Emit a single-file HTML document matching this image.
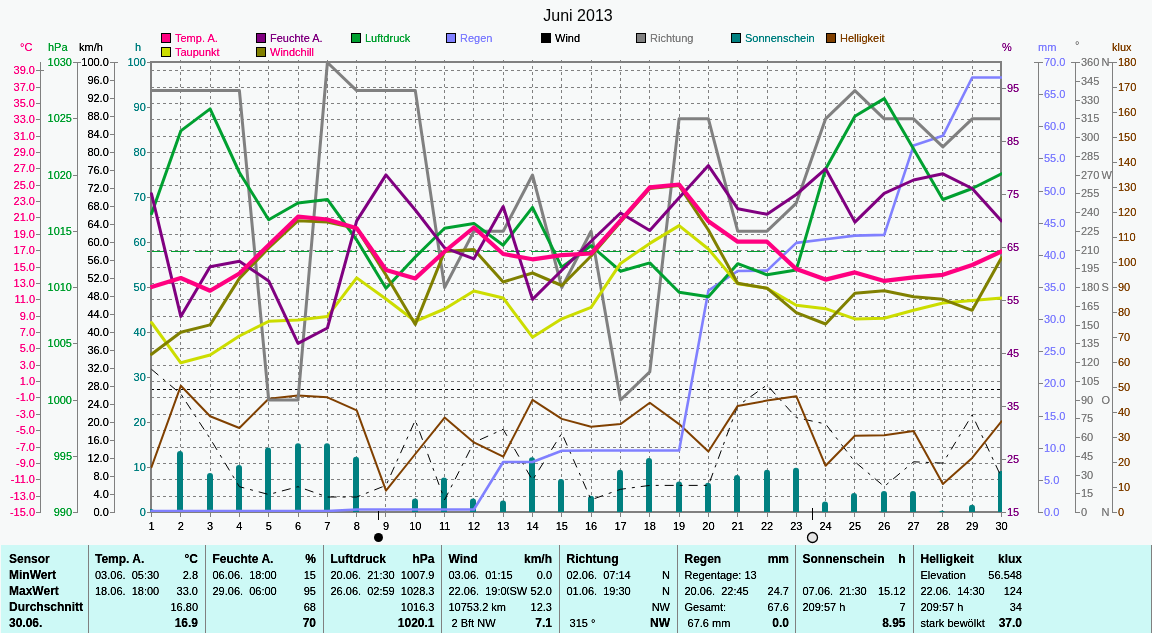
<!DOCTYPE html><html><head><meta charset="utf-8"><style>
html,body{margin:0;padding:0;background:#F7F9F9;width:1152px;height:633px;overflow:hidden}
svg{display:block;position:absolute;left:0;top:0;will-change:transform}
text{font-family:"Liberation Sans",sans-serif;font-size:11px;filter:url(#crisp)}
.tb text{font-size:11px}
</style></head><body>
<svg width="1152" height="633" viewBox="0 0 1152 633">
<rect x="0" y="0" width="1152" height="633" fill="#F7F9F9"/>
<defs><filter id="crisp" x="-30%" y="-30%" width="160%" height="160%"><feComponentTransfer><feFuncA type="linear" slope="1.4" intercept="0"/></feComponentTransfer></filter></defs>
<text x="578" y="21" text-anchor="middle" style="font-size:16px;filter:none" fill="#000">Juni 2013</text>
<rect x="161.5" y="33.5" width="9" height="9" fill="#FF0080" stroke="#000" stroke-width="1"/>
<text x="175" y="42" fill="#FF0080">Temp. A.</text>
<rect x="161.5" y="47.5" width="9" height="9" fill="#CCDD00" stroke="#000" stroke-width="1"/>
<text x="175" y="56" fill="#FF0080">Taupunkt</text>
<rect x="256.5" y="33.5" width="9" height="9" fill="#800080" stroke="#000" stroke-width="1"/>
<text x="270" y="42" fill="#800080">Feuchte A.</text>
<rect x="256.5" y="47.5" width="9" height="9" fill="#808000" stroke="#000" stroke-width="1"/>
<text x="270" y="56" fill="#FF0080">Windchill</text>
<rect x="351.5" y="33.5" width="9" height="9" fill="#00A030" stroke="#000" stroke-width="1"/>
<text x="365" y="42" fill="#00A030">Luftdruck</text>
<rect x="446.5" y="33.5" width="9" height="9" fill="#8080FF" stroke="#000" stroke-width="1"/>
<text x="460" y="42" fill="#8080FF">Regen</text>
<rect x="541.5" y="33.5" width="9" height="9" fill="#000000" stroke="#000" stroke-width="1"/>
<text x="555" y="42" fill="#000">Wind</text>
<rect x="636.5" y="33.5" width="9" height="9" fill="#808080" stroke="#000" stroke-width="1"/>
<text x="650" y="42" fill="#808080">Richtung</text>
<rect x="731.5" y="33.5" width="9" height="9" fill="#008080" stroke="#000" stroke-width="1"/>
<text x="745" y="42" fill="#008080">Sonnenschein</text>
<rect x="826.5" y="33.5" width="9" height="9" fill="#804000" stroke="#000" stroke-width="1"/>
<text x="840" y="42" fill="#804000">Helligkeit</text>
<g shape-rendering="crispEdges">
<path d="M151 70.5H1000M151 87.5H1000M151 103.5H1000M151 119.5H1000M151 136.5H1000M151 152.5H1000M151 168.5H1000M151 185.5H1000M151 201.5H1000M151 217.5H1000M151 234.5H1000M151 250.5H1000M151 267.5H1000M151 283.5H1000M151 299.5H1000M151 316.5H1000M151 332.5H1000M151 348.5H1000M151 365.5H1000M151 381.5H1000M151 397.5H1000M151 414.5H1000M151 430.5H1000M151 447.5H1000M151 463.5H1000M151 479.5H1000M151 496.5H1000M151 512.5H1000" stroke="#808080" stroke-width="1" stroke-dasharray="3 3" fill="none"/>
<path d="M180.5 60V512M210.5 60V512M239.5 60V512M268.5 60V512M298.5 60V512M327.5 60V512M356.5 60V512M385.5 60V512M415.5 60V512M444.5 60V512M473.5 60V512M503.5 60V512M532.5 60V512M561.5 60V512M591.5 60V512M620.5 60V512M649.5 60V512M679.5 60V512M708.5 60V512M737.5 60V512M767.5 60V512M796.5 60V512M825.5 60V512M854.5 60V512M884.5 60V512M913.5 60V512M942.5 60V512M972.5 60V512" stroke="#808080" stroke-width="1" stroke-dasharray="3 3" fill="none"/>
<path d="M147 251.5H1000" stroke="#00A030" stroke-width="1" stroke-dasharray="18 6" fill="none"/>
<path d="M151 389.5H1000" stroke="#000" stroke-width="1" stroke-dasharray="3 3" fill="none"/>
</g>
<g shape-rendering="crispEdges" fill="#808080">
<rect x="150" y="61" width="852" height="2"/>
<rect x="150" y="61" width="2" height="452"/>
<rect x="1000" y="61" width="2" height="452"/>
<rect x="150" y="511" width="852" height="2"/>
</g>
<defs><clipPath id="pc"><rect x="150" y="61" width="852" height="451"/></clipPath></defs>
<g clip-path="url(#pc)">
<rect x="148" y="508.9" width="6" height="7.1" rx="3" ry="3" fill="#008080"/>
<rect x="177" y="451.0" width="6" height="65.0" rx="3" ry="3" fill="#008080"/>
<rect x="207" y="472.9" width="6" height="43.1" rx="3" ry="3" fill="#008080"/>
<rect x="236" y="465.0" width="6" height="51.0" rx="3" ry="3" fill="#008080"/>
<rect x="265" y="447.6" width="6" height="68.4" rx="3" ry="3" fill="#008080"/>
<rect x="295" y="443.2" width="6" height="72.8" rx="3" ry="3" fill="#008080"/>
<rect x="324" y="443.2" width="6" height="72.8" rx="3" ry="3" fill="#008080"/>
<rect x="353" y="456.7" width="6" height="59.3" rx="3" ry="3" fill="#008080"/>
<rect x="412" y="498.5" width="6" height="17.5" rx="3" ry="3" fill="#008080"/>
<rect x="441" y="477.6" width="6" height="38.4" rx="3" ry="3" fill="#008080"/>
<rect x="470" y="498.5" width="6" height="17.5" rx="3" ry="3" fill="#008080"/>
<rect x="500" y="500.5" width="6" height="15.5" rx="3" ry="3" fill="#008080"/>
<rect x="529" y="457.2" width="6" height="58.8" rx="3" ry="3" fill="#008080"/>
<rect x="558" y="478.9" width="6" height="37.1" rx="3" ry="3" fill="#008080"/>
<rect x="588" y="495.8" width="6" height="20.2" rx="3" ry="3" fill="#008080"/>
<rect x="617" y="469.8" width="6" height="46.2" rx="3" ry="3" fill="#008080"/>
<rect x="646" y="458.0" width="6" height="58.0" rx="3" ry="3" fill="#008080"/>
<rect x="676" y="481.5" width="6" height="34.5" rx="3" ry="3" fill="#008080"/>
<rect x="705" y="482.8" width="6" height="33.2" rx="3" ry="3" fill="#008080"/>
<rect x="734" y="475.0" width="6" height="41.0" rx="3" ry="3" fill="#008080"/>
<rect x="764" y="469.8" width="6" height="46.2" rx="3" ry="3" fill="#008080"/>
<rect x="793" y="467.7" width="6" height="48.3" rx="3" ry="3" fill="#008080"/>
<rect x="822" y="501.6" width="6" height="14.4" rx="3" ry="3" fill="#008080"/>
<rect x="851" y="493.0" width="6" height="23.0" rx="3" ry="3" fill="#008080"/>
<rect x="881" y="491.0" width="6" height="25.0" rx="3" ry="3" fill="#008080"/>
<rect x="910" y="491.0" width="6" height="25.0" rx="3" ry="3" fill="#008080"/>
<rect x="939" y="510.5" width="6" height="5.5" rx="3" ry="3" fill="#008080"/>
<rect x="969" y="504.8" width="6" height="11.2" rx="3" ry="3" fill="#008080"/>
<rect x="998" y="470.9" width="6" height="45.1" rx="3" ry="3" fill="#008080"/>
<polyline points="151.5,369.3 180.8,394.0 210.1,438.5 239.4,486.7 268.7,494.5 298.0,486.7 327.4,497.0 356.7,497.0 386.0,485.4 415.3,420.2 444.6,499.8 473.9,442.4 503.2,429.3 532.5,480.2 561.8,433.2 591.1,499.8 620.5,489.3 649.8,485.4 679.1,485.4 708.4,485.4 737.7,405.9 767.0,385.0 796.3,417.6 825.6,424.0 854.9,461.8 884.2,486.5 913.6,461.8 942.9,463.1 972.2,414.9 1001.5,477.4" fill="none" stroke="#000" stroke-width="1" stroke-linejoin="round" stroke-linecap="round" stroke-dasharray="9 6 3 6" style="stroke-linecap:butt;stroke-linejoin:miter"/>
<polyline points="151.5,467.2 180.8,385.8 210.1,416.3 239.4,428.0 268.7,398.8 298.0,395.4 327.4,397.3 356.7,410.3 386.0,490.6 415.3,454.0 444.6,417.6 473.9,442.4 503.2,456.7 532.5,399.9 561.8,418.9 591.1,426.7 620.5,424.1 649.8,402.7 679.1,424.1 708.4,451.5 737.7,405.9 767.0,400.6 796.3,396.2 825.6,465.8 854.9,435.8 884.2,435.2 913.6,431.0 942.9,484.0 972.2,457.9 1001.5,421.4" fill="none" stroke="#804000" stroke-width="2" stroke-linejoin="round" stroke-linecap="round" />
<polyline points="151.5,511.0 180.8,511.0 210.1,511.0 239.4,511.0 268.7,511.0 298.0,511.0 327.4,511.0 356.7,509.5 386.0,509.5 415.3,509.5 444.6,509.5 473.9,509.5 503.2,462.0 532.5,462.0 561.8,450.7 591.1,450.5 620.5,450.5 649.8,450.5 679.1,450.5 708.4,290.7 737.7,271.0 767.0,270.6 796.3,242.9 825.6,239.3 854.9,235.6 884.2,234.9 913.6,145.6 942.9,135.8 972.2,77.5 1001.5,77.5" fill="none" stroke="#8080FF" stroke-width="2.6" stroke-linejoin="round" stroke-linecap="round" />
<polyline points="151.5,90.6 180.8,90.6 210.1,90.6 239.4,90.6 268.7,400.0 298.0,400.0 327.4,62.5 356.7,90.6 386.0,90.6 415.3,90.6 444.6,287.5 473.9,231.2 503.2,231.2 532.5,175.0 561.8,287.5 591.1,231.2 620.5,400.0 649.8,371.9 679.1,118.8 708.4,118.8 737.7,231.2 767.0,231.2 796.3,203.1 825.6,118.8 854.9,90.6 884.2,118.8 913.6,118.8 942.9,146.9 972.2,118.8 1001.5,118.8" fill="none" stroke="#808080" stroke-width="3" stroke-linejoin="round" stroke-linecap="round" />
<polyline points="151.5,213.7 180.8,130.9 210.1,108.9 239.4,172.5 268.7,219.7 298.0,203.0 327.4,199.4 356.7,240.0 386.0,288.2 415.3,257.0 444.6,228.2 473.9,223.4 503.2,245.2 532.5,207.4 561.8,267.3 591.1,245.6 620.5,271.2 649.8,262.9 679.1,292.2 708.4,296.8 737.7,263.7 767.0,274.8 796.3,269.9 825.6,168.9 854.9,116.2 884.2,98.6 913.6,149.0 942.9,199.5 972.2,188.5 1001.5,173.8" fill="none" stroke="#00A030" stroke-width="3" stroke-linejoin="round" stroke-linecap="round" />
<polyline points="151.5,322.5 180.8,362.8 210.1,355.0 239.4,336.0 268.7,321.3 298.0,320.0 327.4,316.4 356.7,277.9 386.0,299.0 415.3,321.3 444.6,309.0 473.9,291.0 503.2,298.0 532.5,337.2 561.8,318.8 591.1,307.3 620.5,263.4 649.8,243.4 679.1,225.6 708.4,249.0 737.7,283.8 767.0,288.2 796.3,305.3 825.6,308.7 854.9,318.9 884.2,318.2 913.6,310.3 942.9,303.0 972.2,300.5 1001.5,298.0" fill="none" stroke="#CCDD00" stroke-width="3" stroke-linejoin="round" stroke-linecap="round" />
<polyline points="151.5,354.3 180.8,332.3 210.1,324.9 239.4,278.4 268.7,248.0 298.0,220.7 327.4,222.0 356.7,228.5 386.0,275.0 415.3,324.4 444.6,251.5 473.9,249.5 503.2,282.0 532.5,273.0 561.8,285.5 591.1,256.0 620.5,222.0 649.8,188.6 679.1,185.6 708.4,230.0 737.7,283.3 767.0,288.2 796.3,312.7 825.6,324.0 854.9,293.2 884.2,290.7 913.6,296.8 942.9,299.3 972.2,310.3 1001.5,257.7" fill="none" stroke="#808000" stroke-width="3" stroke-linejoin="round" stroke-linecap="round" />
<polyline points="151.5,193.8 180.8,316.4 210.1,266.7 239.4,261.3 268.7,280.9 298.0,343.3 327.4,328.0 356.7,220.9 386.0,174.9 415.3,210.0 444.6,247.8 473.9,258.8 503.2,206.5 532.5,299.4 561.8,270.3 591.1,241.2 620.5,213.0 649.8,230.5 679.1,197.7 708.4,165.6 737.7,208.7 767.0,214.3 796.3,194.5 825.6,168.8 854.9,222.1 884.2,193.4 913.6,180.0 942.9,173.8 972.2,188.5 1001.5,220.9" fill="none" stroke="#800080" stroke-width="3" stroke-linejoin="round" stroke-linecap="round" />
<polyline points="151.5,287.0 180.8,278.0 210.1,290.7 239.4,273.5 268.7,245.0 298.0,216.7 327.4,219.5 356.7,228.2 386.0,269.9 415.3,278.4 444.6,251.5 473.9,227.5 503.2,254.0 532.5,259.3 561.8,255.2 591.1,253.5 620.5,220.7 649.8,187.3 679.1,184.5 708.4,221.3 737.7,241.7 767.0,241.7 796.3,269.1 825.6,279.6 854.9,272.4 884.2,280.9 913.6,277.3 942.9,274.8 972.2,265.0 1001.5,251.5" fill="none" stroke="#FF0080" stroke-width="4.2" stroke-linejoin="round" stroke-linecap="round" />
</g>
<g shape-rendering="crispEdges" fill="#808080">
<rect x="151" y="513" width="1" height="4"/>
<rect x="180" y="513" width="1" height="4"/>
<rect x="210" y="513" width="1" height="4"/>
<rect x="239" y="513" width="1" height="4"/>
<rect x="268" y="513" width="1" height="4"/>
<rect x="298" y="513" width="1" height="4"/>
<rect x="327" y="513" width="1" height="4"/>
<rect x="356" y="513" width="1" height="4"/>
<rect x="385" y="513" width="1" height="4"/>
<rect x="415" y="513" width="1" height="4"/>
<rect x="444" y="513" width="1" height="4"/>
<rect x="473" y="513" width="1" height="4"/>
<rect x="503" y="513" width="1" height="4"/>
<rect x="532" y="513" width="1" height="4"/>
<rect x="561" y="513" width="1" height="4"/>
<rect x="591" y="513" width="1" height="4"/>
<rect x="620" y="513" width="1" height="4"/>
<rect x="649" y="513" width="1" height="4"/>
<rect x="679" y="513" width="1" height="4"/>
<rect x="708" y="513" width="1" height="4"/>
<rect x="737" y="513" width="1" height="4"/>
<rect x="767" y="513" width="1" height="4"/>
<rect x="796" y="513" width="1" height="4"/>
<rect x="825" y="513" width="1" height="4"/>
<rect x="854" y="513" width="1" height="4"/>
<rect x="884" y="513" width="1" height="4"/>
<rect x="913" y="513" width="1" height="4"/>
<rect x="942" y="513" width="1" height="4"/>
<rect x="972" y="513" width="1" height="4"/>
<rect x="1001" y="513" width="1" height="4"/>
</g>
<text x="151.5" y="530" text-anchor="middle" fill="#000">1</text>
<text x="180.8" y="530" text-anchor="middle" fill="#000">2</text>
<text x="210.1" y="530" text-anchor="middle" fill="#000">3</text>
<text x="239.4" y="530" text-anchor="middle" fill="#000">4</text>
<text x="268.7" y="530" text-anchor="middle" fill="#000">5</text>
<text x="298.0" y="530" text-anchor="middle" fill="#000">6</text>
<text x="327.4" y="530" text-anchor="middle" fill="#000">7</text>
<text x="356.7" y="530" text-anchor="middle" fill="#000">8</text>
<text x="386.0" y="530" text-anchor="middle" fill="#000">9</text>
<text x="415.3" y="530" text-anchor="middle" fill="#000">10</text>
<text x="444.6" y="530" text-anchor="middle" fill="#000">11</text>
<text x="473.9" y="530" text-anchor="middle" fill="#000">12</text>
<text x="503.2" y="530" text-anchor="middle" fill="#000">13</text>
<text x="532.5" y="530" text-anchor="middle" fill="#000">14</text>
<text x="561.8" y="530" text-anchor="middle" fill="#000">15</text>
<text x="591.1" y="530" text-anchor="middle" fill="#000">16</text>
<text x="620.5" y="530" text-anchor="middle" fill="#000">17</text>
<text x="649.8" y="530" text-anchor="middle" fill="#000">18</text>
<text x="679.1" y="530" text-anchor="middle" fill="#000">19</text>
<text x="708.4" y="530" text-anchor="middle" fill="#000">20</text>
<text x="737.7" y="530" text-anchor="middle" fill="#000">21</text>
<text x="767.0" y="530" text-anchor="middle" fill="#000">22</text>
<text x="796.3" y="530" text-anchor="middle" fill="#000">23</text>
<text x="825.6" y="530" text-anchor="middle" fill="#000">24</text>
<text x="854.9" y="530" text-anchor="middle" fill="#000">25</text>
<text x="884.2" y="530" text-anchor="middle" fill="#000">26</text>
<text x="913.6" y="530" text-anchor="middle" fill="#000">27</text>
<text x="942.9" y="530" text-anchor="middle" fill="#000">28</text>
<text x="972.2" y="530" text-anchor="middle" fill="#000">29</text>
<text x="1001.5" y="530" text-anchor="middle" fill="#000">30</text>
<g shape-rendering="crispEdges" fill="#808080">
<rect x="40" y="62" width="1" height="451"/>
<rect x="77" y="62" width="1" height="451"/>
<rect x="114" y="62" width="1" height="451"/>
<rect x="36" y="70" width="8" height="1"/>
<rect x="36" y="87" width="4" height="1"/>
<rect x="36" y="103" width="4" height="1"/>
<rect x="36" y="119" width="4" height="1"/>
<rect x="36" y="136" width="4" height="1"/>
<rect x="36" y="152" width="4" height="1"/>
<rect x="36" y="168" width="4" height="1"/>
<rect x="36" y="185" width="4" height="1"/>
<rect x="36" y="201" width="4" height="1"/>
<rect x="36" y="217" width="4" height="1"/>
<rect x="36" y="234" width="4" height="1"/>
<rect x="36" y="250" width="4" height="1"/>
<rect x="36" y="267" width="4" height="1"/>
<rect x="36" y="283" width="4" height="1"/>
<rect x="36" y="299" width="4" height="1"/>
<rect x="36" y="316" width="4" height="1"/>
<rect x="36" y="332" width="4" height="1"/>
<rect x="36" y="348" width="4" height="1"/>
<rect x="36" y="365" width="4" height="1"/>
<rect x="36" y="381" width="4" height="1"/>
<rect x="36" y="397" width="4" height="1"/>
<rect x="36" y="414" width="4" height="1"/>
<rect x="36" y="430" width="4" height="1"/>
<rect x="36" y="447" width="4" height="1"/>
<rect x="36" y="463" width="4" height="1"/>
<rect x="36" y="479" width="4" height="1"/>
<rect x="36" y="496" width="4" height="1"/>
<rect x="36" y="512" width="4" height="1"/>
<rect x="73" y="62" width="8" height="1"/>
<rect x="73" y="118" width="4" height="1"/>
<rect x="73" y="175" width="4" height="1"/>
<rect x="73" y="231" width="4" height="1"/>
<rect x="73" y="287" width="4" height="1"/>
<rect x="73" y="343" width="4" height="1"/>
<rect x="73" y="400" width="4" height="1"/>
<rect x="73" y="456" width="4" height="1"/>
<rect x="73" y="512" width="4" height="1"/>
<rect x="110" y="62" width="8" height="1"/>
<rect x="110" y="80" width="4" height="1"/>
<rect x="110" y="98" width="4" height="1"/>
<rect x="110" y="116" width="4" height="1"/>
<rect x="110" y="134" width="4" height="1"/>
<rect x="110" y="152" width="4" height="1"/>
<rect x="110" y="170" width="4" height="1"/>
<rect x="110" y="188" width="4" height="1"/>
<rect x="110" y="206" width="4" height="1"/>
<rect x="110" y="224" width="4" height="1"/>
<rect x="110" y="242" width="4" height="1"/>
<rect x="110" y="260" width="4" height="1"/>
<rect x="110" y="278" width="4" height="1"/>
<rect x="110" y="296" width="4" height="1"/>
<rect x="110" y="314" width="4" height="1"/>
<rect x="110" y="332" width="4" height="1"/>
<rect x="110" y="350" width="4" height="1"/>
<rect x="110" y="368" width="4" height="1"/>
<rect x="110" y="386" width="4" height="1"/>
<rect x="110" y="404" width="4" height="1"/>
<rect x="110" y="422" width="4" height="1"/>
<rect x="110" y="440" width="4" height="1"/>
<rect x="110" y="458" width="4" height="1"/>
<rect x="110" y="476" width="4" height="1"/>
<rect x="110" y="494" width="4" height="1"/>
<rect x="110" y="512" width="4" height="1"/>
<rect x="147" y="62" width="4" height="1"/>
<rect x="147" y="107" width="4" height="1"/>
<rect x="147" y="152" width="4" height="1"/>
<rect x="147" y="197" width="4" height="1"/>
<rect x="147" y="242" width="4" height="1"/>
<rect x="147" y="287" width="4" height="1"/>
<rect x="147" y="332" width="4" height="1"/>
<rect x="147" y="377" width="4" height="1"/>
<rect x="147" y="422" width="4" height="1"/>
<rect x="147" y="467" width="4" height="1"/>
<rect x="147" y="512" width="4" height="1"/>
</g>
<text x="35" y="74.0" text-anchor="end" fill="#FF0080">39.0</text>
<text x="35" y="91.0" text-anchor="end" fill="#FF0080">37.0</text>
<text x="35" y="107.0" text-anchor="end" fill="#FF0080">35.0</text>
<text x="35" y="123.0" text-anchor="end" fill="#FF0080">33.0</text>
<text x="35" y="140.0" text-anchor="end" fill="#FF0080">31.0</text>
<text x="35" y="156.0" text-anchor="end" fill="#FF0080">29.0</text>
<text x="35" y="172.0" text-anchor="end" fill="#FF0080">27.0</text>
<text x="35" y="189.0" text-anchor="end" fill="#FF0080">25.0</text>
<text x="35" y="205.0" text-anchor="end" fill="#FF0080">23.0</text>
<text x="35" y="221.0" text-anchor="end" fill="#FF0080">21.0</text>
<text x="35" y="238.0" text-anchor="end" fill="#FF0080">19.0</text>
<text x="35" y="254.0" text-anchor="end" fill="#FF0080">17.0</text>
<text x="35" y="271.0" text-anchor="end" fill="#FF0080">15.0</text>
<text x="35" y="287.0" text-anchor="end" fill="#FF0080">13.0</text>
<text x="35" y="303.0" text-anchor="end" fill="#FF0080">11.0</text>
<text x="35" y="320.0" text-anchor="end" fill="#FF0080">9.0</text>
<text x="35" y="336.0" text-anchor="end" fill="#FF0080">7.0</text>
<text x="35" y="352.0" text-anchor="end" fill="#FF0080">5.0</text>
<text x="35" y="369.0" text-anchor="end" fill="#FF0080">3.0</text>
<text x="35" y="385.0" text-anchor="end" fill="#FF0080">1.0</text>
<text x="35" y="401.0" text-anchor="end" fill="#FF0080">-1.0</text>
<text x="35" y="418.0" text-anchor="end" fill="#FF0080">-3.0</text>
<text x="35" y="434.0" text-anchor="end" fill="#FF0080">-5.0</text>
<text x="35" y="451.0" text-anchor="end" fill="#FF0080">-7.0</text>
<text x="35" y="467.0" text-anchor="end" fill="#FF0080">-9.0</text>
<text x="35" y="483.0" text-anchor="end" fill="#FF0080">-11.0</text>
<text x="35" y="500.0" text-anchor="end" fill="#FF0080">-13.0</text>
<text x="35" y="516.0" text-anchor="end" fill="#FF0080">-15.0</text>
<text x="72" y="66.0" text-anchor="end" fill="#00A030">1030</text>
<text x="72" y="122.0" text-anchor="end" fill="#00A030">1025</text>
<text x="72" y="179.0" text-anchor="end" fill="#00A030">1020</text>
<text x="72" y="235.0" text-anchor="end" fill="#00A030">1015</text>
<text x="72" y="291.0" text-anchor="end" fill="#00A030">1010</text>
<text x="72" y="347.0" text-anchor="end" fill="#00A030">1005</text>
<text x="72" y="404.0" text-anchor="end" fill="#00A030">1000</text>
<text x="72" y="460.0" text-anchor="end" fill="#00A030">995</text>
<text x="72" y="516.0" text-anchor="end" fill="#00A030">990</text>
<text x="108.8" y="66.0" text-anchor="end" fill="#000">100.0</text>
<text x="108.8" y="84.0" text-anchor="end" fill="#000">96.0</text>
<text x="108.8" y="102.0" text-anchor="end" fill="#000">92.0</text>
<text x="108.8" y="120.0" text-anchor="end" fill="#000">88.0</text>
<text x="108.8" y="138.0" text-anchor="end" fill="#000">84.0</text>
<text x="108.8" y="156.0" text-anchor="end" fill="#000">80.0</text>
<text x="108.8" y="174.0" text-anchor="end" fill="#000">76.0</text>
<text x="108.8" y="192.0" text-anchor="end" fill="#000">72.0</text>
<text x="108.8" y="210.0" text-anchor="end" fill="#000">68.0</text>
<text x="108.8" y="228.0" text-anchor="end" fill="#000">64.0</text>
<text x="108.8" y="246.0" text-anchor="end" fill="#000">60.0</text>
<text x="108.8" y="264.0" text-anchor="end" fill="#000">56.0</text>
<text x="108.8" y="282.0" text-anchor="end" fill="#000">52.0</text>
<text x="108.8" y="300.0" text-anchor="end" fill="#000">48.0</text>
<text x="108.8" y="318.0" text-anchor="end" fill="#000">44.0</text>
<text x="108.8" y="336.0" text-anchor="end" fill="#000">40.0</text>
<text x="108.8" y="354.0" text-anchor="end" fill="#000">36.0</text>
<text x="108.8" y="372.0" text-anchor="end" fill="#000">32.0</text>
<text x="108.8" y="390.0" text-anchor="end" fill="#000">28.0</text>
<text x="108.8" y="408.0" text-anchor="end" fill="#000">24.0</text>
<text x="108.8" y="426.0" text-anchor="end" fill="#000">20.0</text>
<text x="108.8" y="444.0" text-anchor="end" fill="#000">16.0</text>
<text x="108.8" y="462.0" text-anchor="end" fill="#000">12.0</text>
<text x="108.8" y="480.0" text-anchor="end" fill="#000">8.0</text>
<text x="108.8" y="498.0" text-anchor="end" fill="#000">4.0</text>
<text x="108.8" y="516.0" text-anchor="end" fill="#000">0.0</text>
<text x="145.8" y="66.0" text-anchor="end" fill="#008080">100</text>
<text x="145.8" y="111.0" text-anchor="end" fill="#008080">90</text>
<text x="145.8" y="156.0" text-anchor="end" fill="#008080">80</text>
<text x="145.8" y="201.0" text-anchor="end" fill="#008080">70</text>
<text x="145.8" y="246.0" text-anchor="end" fill="#008080">60</text>
<text x="145.8" y="291.0" text-anchor="end" fill="#008080">50</text>
<text x="145.8" y="336.0" text-anchor="end" fill="#008080">40</text>
<text x="145.8" y="381.0" text-anchor="end" fill="#008080">30</text>
<text x="145.8" y="426.0" text-anchor="end" fill="#008080">20</text>
<text x="145.8" y="471.0" text-anchor="end" fill="#008080">10</text>
<text x="145.8" y="516.0" text-anchor="end" fill="#008080">0</text>
<text x="20" y="51" fill="#FF0080">°C</text>
<text x="48" y="51" fill="#00A030">hPa</text>
<text x="79" y="51" fill="#000">km/h</text>
<text x="135" y="51" fill="#008080">h</text>
<g shape-rendering="crispEdges" fill="#808080">
<rect x="1038" y="62" width="1" height="451"/>
<rect x="1075" y="62" width="1" height="451"/>
<rect x="1112" y="62" width="1" height="451"/>
<rect x="1002" y="88" width="4" height="1"/>
<rect x="1002" y="141" width="4" height="1"/>
<rect x="1002" y="194" width="4" height="1"/>
<rect x="1002" y="247" width="4" height="1"/>
<rect x="1002" y="300" width="4" height="1"/>
<rect x="1002" y="353" width="4" height="1"/>
<rect x="1002" y="406" width="4" height="1"/>
<rect x="1002" y="459" width="4" height="1"/>
<rect x="1002" y="512" width="4" height="1"/>
<rect x="1034" y="62" width="9" height="1"/>
<rect x="1038" y="94" width="5" height="1"/>
<rect x="1038" y="126" width="5" height="1"/>
<rect x="1038" y="158" width="5" height="1"/>
<rect x="1038" y="191" width="5" height="1"/>
<rect x="1038" y="223" width="5" height="1"/>
<rect x="1038" y="255" width="5" height="1"/>
<rect x="1038" y="287" width="5" height="1"/>
<rect x="1038" y="319" width="5" height="1"/>
<rect x="1038" y="351" width="5" height="1"/>
<rect x="1038" y="383" width="5" height="1"/>
<rect x="1038" y="416" width="5" height="1"/>
<rect x="1038" y="448" width="5" height="1"/>
<rect x="1038" y="480" width="5" height="1"/>
<rect x="1038" y="512" width="5" height="1"/>
<rect x="1071" y="62" width="9" height="1"/>
<rect x="1075" y="81" width="5" height="1"/>
<rect x="1075" y="100" width="5" height="1"/>
<rect x="1075" y="118" width="5" height="1"/>
<rect x="1075" y="137" width="5" height="1"/>
<rect x="1075" y="156" width="5" height="1"/>
<rect x="1075" y="175" width="5" height="1"/>
<rect x="1075" y="193" width="5" height="1"/>
<rect x="1075" y="212" width="5" height="1"/>
<rect x="1075" y="231" width="5" height="1"/>
<rect x="1075" y="250" width="5" height="1"/>
<rect x="1075" y="268" width="5" height="1"/>
<rect x="1075" y="287" width="5" height="1"/>
<rect x="1075" y="306" width="5" height="1"/>
<rect x="1075" y="325" width="5" height="1"/>
<rect x="1075" y="343" width="5" height="1"/>
<rect x="1075" y="362" width="5" height="1"/>
<rect x="1075" y="381" width="5" height="1"/>
<rect x="1075" y="400" width="5" height="1"/>
<rect x="1075" y="418" width="5" height="1"/>
<rect x="1075" y="437" width="5" height="1"/>
<rect x="1075" y="456" width="5" height="1"/>
<rect x="1075" y="475" width="5" height="1"/>
<rect x="1075" y="493" width="5" height="1"/>
<rect x="1075" y="512" width="5" height="1"/>
<rect x="1108" y="62" width="9" height="1"/>
<rect x="1112" y="87" width="5" height="1"/>
<rect x="1112" y="112" width="5" height="1"/>
<rect x="1112" y="137" width="5" height="1"/>
<rect x="1112" y="162" width="5" height="1"/>
<rect x="1112" y="187" width="5" height="1"/>
<rect x="1112" y="212" width="5" height="1"/>
<rect x="1112" y="237" width="5" height="1"/>
<rect x="1112" y="262" width="5" height="1"/>
<rect x="1112" y="287" width="5" height="1"/>
<rect x="1112" y="312" width="5" height="1"/>
<rect x="1112" y="337" width="5" height="1"/>
<rect x="1112" y="362" width="5" height="1"/>
<rect x="1112" y="387" width="5" height="1"/>
<rect x="1112" y="412" width="5" height="1"/>
<rect x="1112" y="437" width="5" height="1"/>
<rect x="1112" y="462" width="5" height="1"/>
<rect x="1112" y="487" width="5" height="1"/>
<rect x="1112" y="512" width="5" height="1"/>
</g>
<text x="1007" y="92.0" fill="#800080">95</text>
<text x="1007" y="145.0" fill="#800080">85</text>
<text x="1007" y="198.0" fill="#800080">75</text>
<text x="1007" y="251.0" fill="#800080">65</text>
<text x="1007" y="304.0" fill="#800080">55</text>
<text x="1007" y="357.0" fill="#800080">45</text>
<text x="1007" y="410.0" fill="#800080">35</text>
<text x="1007" y="463.0" fill="#800080">25</text>
<text x="1007" y="516.0" fill="#800080">15</text>
<text x="1044" y="66.0" fill="#8080FF">70.0</text>
<text x="1044" y="98.0" fill="#8080FF">65.0</text>
<text x="1044" y="130.0" fill="#8080FF">60.0</text>
<text x="1044" y="162.0" fill="#8080FF">55.0</text>
<text x="1044" y="195.0" fill="#8080FF">50.0</text>
<text x="1044" y="227.0" fill="#8080FF">45.0</text>
<text x="1044" y="259.0" fill="#8080FF">40.0</text>
<text x="1044" y="291.0" fill="#8080FF">35.0</text>
<text x="1044" y="323.0" fill="#8080FF">30.0</text>
<text x="1044" y="355.0" fill="#8080FF">25.0</text>
<text x="1044" y="387.0" fill="#8080FF">20.0</text>
<text x="1044" y="420.0" fill="#8080FF">15.0</text>
<text x="1044" y="452.0" fill="#8080FF">10.0</text>
<text x="1044" y="484.0" fill="#8080FF">5.0</text>
<text x="1044" y="516.0" fill="#8080FF">0.0</text>
<text x="1081" y="66.0" fill="#808080">360</text>
<text x="1101.5" y="66.0" fill="#808080">N</text>
<text x="1081" y="85.0" fill="#808080">345</text>
<text x="1081" y="104.0" fill="#808080">330</text>
<text x="1081" y="122.0" fill="#808080">315</text>
<text x="1081" y="141.0" fill="#808080">300</text>
<text x="1081" y="160.0" fill="#808080">285</text>
<text x="1081" y="179.0" fill="#808080">270</text>
<text x="1101.5" y="179.0" fill="#808080">W</text>
<text x="1081" y="197.0" fill="#808080">255</text>
<text x="1081" y="216.0" fill="#808080">240</text>
<text x="1081" y="235.0" fill="#808080">225</text>
<text x="1081" y="254.0" fill="#808080">210</text>
<text x="1081" y="272.0" fill="#808080">195</text>
<text x="1081" y="291.0" fill="#808080">180</text>
<text x="1101.5" y="291.0" fill="#808080">S</text>
<text x="1081" y="310.0" fill="#808080">165</text>
<text x="1081" y="329.0" fill="#808080">150</text>
<text x="1081" y="347.0" fill="#808080">135</text>
<text x="1081" y="366.0" fill="#808080">120</text>
<text x="1081" y="385.0" fill="#808080">105</text>
<text x="1081" y="404.0" fill="#808080">90</text>
<text x="1101.5" y="404.0" fill="#808080">O</text>
<text x="1081" y="422.0" fill="#808080">75</text>
<text x="1081" y="441.0" fill="#808080">60</text>
<text x="1081" y="460.0" fill="#808080">45</text>
<text x="1081" y="479.0" fill="#808080">30</text>
<text x="1081" y="497.0" fill="#808080">15</text>
<text x="1081" y="516.0" fill="#808080">0</text>
<text x="1101.5" y="516.0" fill="#808080">N</text>
<text x="1118" y="66.0" fill="#804000">180</text>
<text x="1118" y="91.0" fill="#804000">170</text>
<text x="1118" y="116.0" fill="#804000">160</text>
<text x="1118" y="141.0" fill="#804000">150</text>
<text x="1118" y="166.0" fill="#804000">140</text>
<text x="1118" y="191.0" fill="#804000">130</text>
<text x="1118" y="216.0" fill="#804000">120</text>
<text x="1118" y="241.0" fill="#804000">110</text>
<text x="1118" y="266.0" fill="#804000">100</text>
<text x="1118" y="291.0" fill="#804000">90</text>
<text x="1118" y="316.0" fill="#804000">80</text>
<text x="1118" y="341.0" fill="#804000">70</text>
<text x="1118" y="366.0" fill="#804000">60</text>
<text x="1118" y="391.0" fill="#804000">50</text>
<text x="1118" y="416.0" fill="#804000">40</text>
<text x="1118" y="441.0" fill="#804000">30</text>
<text x="1118" y="466.0" fill="#804000">20</text>
<text x="1118" y="491.0" fill="#804000">10</text>
<text x="1118" y="516.0" fill="#804000">0</text>
<text x="1002" y="51" fill="#800080">%</text>
<text x="1038" y="51" fill="#8080FF">mm</text>
<text x="1075" y="49" fill="#808080">°</text>
<text x="1112" y="51" fill="#804000">klux</text>
<rect x="378" y="511" width="1" height="9" fill="#000"/>
<circle cx="378.5" cy="537.5" r="4.5" fill="#000"/>
<rect x="812" y="508" width="1" height="12" fill="#000"/>
<circle cx="812.5" cy="537.5" r="5" fill="#E4E4E4" stroke="#000" stroke-width="1.3"/>
<rect x="1" y="545" width="1151" height="88" fill="#CDF9F6"/>
<g shape-rendering="crispEdges" fill="#808080">
<rect x="88" y="545" width="1" height="88"/>
<rect x="205" y="545" width="1" height="88"/>
<rect x="323" y="545" width="1" height="88"/>
<rect x="441" y="545" width="1" height="88"/>
<rect x="559" y="545" width="1" height="88"/>
<rect x="677" y="545" width="1" height="88"/>
<rect x="795" y="545" width="1" height="88"/>
<rect x="913" y="545" width="1" height="88"/>
<rect x="1151" y="545" width="1" height="88"/>
</g>
<text x="9.0" y="563" text-anchor="start" font-weight="bold" style="font-size:12px" fill="#000">Sensor</text>
<text x="9.0" y="579" text-anchor="start" font-weight="bold" style="font-size:12px" fill="#000">MinWert</text>
<text x="9.0" y="595" text-anchor="start" font-weight="bold" style="font-size:12px" fill="#000">MaxWert</text>
<text x="9.0" y="611" text-anchor="start" font-weight="bold" style="font-size:12px" fill="#000">Durchschnitt</text>
<text x="9.0" y="627" text-anchor="start" font-weight="bold" style="font-size:12px" fill="#000">30.06.</text>
<text x="95.0" y="563" text-anchor="start" font-weight="bold" style="font-size:12px" fill="#000">Temp. A.</text>
<text x="198.0" y="563" text-anchor="end" font-weight="bold" style="font-size:12px" fill="#000">°C</text>
<text x="95.0" y="579" text-anchor="start" fill="#000">03.06.&#160;&#160;05:30</text>
<text x="198.0" y="579" text-anchor="end" fill="#000">2.8</text>
<text x="95.0" y="595" text-anchor="start" fill="#000">18.06.&#160;&#160;18:00</text>
<text x="198.0" y="595" text-anchor="end" fill="#000">33.0</text>
<text x="198.0" y="611" text-anchor="end" fill="#000">16.80</text>
<text x="198.0" y="627" text-anchor="end" font-weight="bold" style="font-size:12px" fill="#000">16.9</text>
<text x="212.5" y="563" text-anchor="start" font-weight="bold" style="font-size:12px" fill="#000">Feuchte A.</text>
<text x="316.0" y="563" text-anchor="end" font-weight="bold" style="font-size:12px" fill="#000">%</text>
<text x="212.5" y="579" text-anchor="start" fill="#000">06.06.&#160;&#160;18:00</text>
<text x="316.0" y="579" text-anchor="end" fill="#000">15</text>
<text x="212.5" y="595" text-anchor="start" fill="#000">29.06.&#160;&#160;06:00</text>
<text x="316.0" y="595" text-anchor="end" fill="#000">95</text>
<text x="316.0" y="611" text-anchor="end" fill="#000">68</text>
<text x="316.0" y="627" text-anchor="end" font-weight="bold" style="font-size:12px" fill="#000">70</text>
<text x="330.5" y="563" text-anchor="start" font-weight="bold" style="font-size:12px" fill="#000">Luftdruck</text>
<text x="434.5" y="563" text-anchor="end" font-weight="bold" style="font-size:12px" fill="#000">hPa</text>
<text x="330.5" y="579" text-anchor="start" fill="#000">20.06.&#160;&#160;21:30</text>
<text x="434.5" y="579" text-anchor="end" fill="#000">1007.9</text>
<text x="330.5" y="595" text-anchor="start" fill="#000">26.06.&#160;&#160;02:59</text>
<text x="434.5" y="595" text-anchor="end" fill="#000">1028.3</text>
<text x="434.5" y="611" text-anchor="end" fill="#000">1016.3</text>
<text x="434.5" y="627" text-anchor="end" font-weight="bold" style="font-size:12px" fill="#000">1020.1</text>
<text x="448.5" y="563" text-anchor="start" font-weight="bold" style="font-size:12px" fill="#000">Wind</text>
<text x="552.0" y="563" text-anchor="end" font-weight="bold" style="font-size:12px" fill="#000">km/h</text>
<text x="448.5" y="579" text-anchor="start" fill="#000">03.06.&#160;&#160;01:15</text>
<text x="552.0" y="579" text-anchor="end" fill="#000">0.0</text>
<text x="448.5" y="595" text-anchor="start" fill="#000">22.06.&#160;&#160;19:00</text>
<text x="552.0" y="595" text-anchor="end" fill="#000">52.0</text>
<text x="448.5" y="611" text-anchor="start" fill="#000">10753.2 km</text>
<text x="552.0" y="611" text-anchor="end" fill="#000">12.3</text>
<text x="448.5" y="627" text-anchor="start" fill="#000">&#160;2 Bft NW</text>
<text x="552.0" y="627" text-anchor="end" font-weight="bold" style="font-size:12px" fill="#000">7.1</text>
<text x="566.5" y="563" text-anchor="start" font-weight="bold" style="font-size:12px" fill="#000">Richtung</text>
<text x="566.5" y="579" text-anchor="start" fill="#000">02.06.&#160;&#160;07:14</text>
<text x="670.0" y="579" text-anchor="end" fill="#000">N</text>
<text x="566.5" y="595" text-anchor="start" fill="#000">01.06.&#160;&#160;19:30</text>
<text x="670.0" y="595" text-anchor="end" fill="#000">N</text>
<text x="670.0" y="611" text-anchor="end" fill="#000">NW</text>
<text x="566.5" y="627" text-anchor="start" fill="#000">&#160;315 °</text>
<text x="670.0" y="627" text-anchor="end" font-weight="bold" style="font-size:12px" fill="#000">NW</text>
<text x="684.5" y="563" text-anchor="start" font-weight="bold" style="font-size:12px" fill="#000">Regen</text>
<text x="789.0" y="563" text-anchor="end" font-weight="bold" style="font-size:12px" fill="#000">mm</text>
<text x="684.5" y="579" text-anchor="start" fill="#000">Regentage: 13</text>
<text x="684.5" y="595" text-anchor="start" fill="#000">20.06.&#160;&#160;22:45</text>
<text x="789.0" y="595" text-anchor="end" fill="#000">24.7</text>
<text x="684.5" y="611" text-anchor="start" fill="#000">Gesamt:</text>
<text x="789.0" y="611" text-anchor="end" fill="#000">67.6</text>
<text x="684.5" y="627" text-anchor="start" fill="#000">&#160;67.6 mm</text>
<text x="789.0" y="627" text-anchor="end" font-weight="bold" style="font-size:12px" fill="#000">0.0</text>
<text x="802.5" y="563" text-anchor="start" font-weight="bold" style="font-size:12px" fill="#000">Sonnenschein</text>
<text x="905.5" y="563" text-anchor="end" font-weight="bold" style="font-size:12px" fill="#000">h</text>
<text x="802.5" y="595" text-anchor="start" fill="#000">07.06.&#160;&#160;21:30</text>
<text x="905.5" y="595" text-anchor="end" fill="#000">15.12</text>
<text x="802.5" y="611" text-anchor="start" fill="#000">209:57 h</text>
<text x="905.5" y="611" text-anchor="end" fill="#000">7</text>
<text x="905.5" y="627" text-anchor="end" font-weight="bold" style="font-size:12px" fill="#000">8.95</text>
<text x="920.5" y="563" text-anchor="start" font-weight="bold" style="font-size:12px" fill="#000">Helligkeit</text>
<text x="1022.0" y="563" text-anchor="end" font-weight="bold" style="font-size:12px" fill="#000">klux</text>
<text x="920.5" y="579" text-anchor="start" fill="#000">Elevation</text>
<text x="1022.0" y="579" text-anchor="end" fill="#000">56.548</text>
<text x="920.5" y="595" text-anchor="start" fill="#000">22.06.&#160;&#160;14:30</text>
<text x="1022.0" y="595" text-anchor="end" fill="#000">124</text>
<text x="920.5" y="611" text-anchor="start" fill="#000">209:57 h</text>
<text x="1022.0" y="611" text-anchor="end" fill="#000">34</text>
<text x="920.5" y="627" text-anchor="start" fill="#000">stark bewölkt</text>
<text x="1022.0" y="627" text-anchor="end" font-weight="bold" style="font-size:12px" fill="#000">37.0</text>
<rect x="509" y="583" width="19" height="13" fill="#CDF9F6"/>
<text x="509.5" y="595" text-anchor="start" fill="#000">SW</text>
</svg></body></html>
